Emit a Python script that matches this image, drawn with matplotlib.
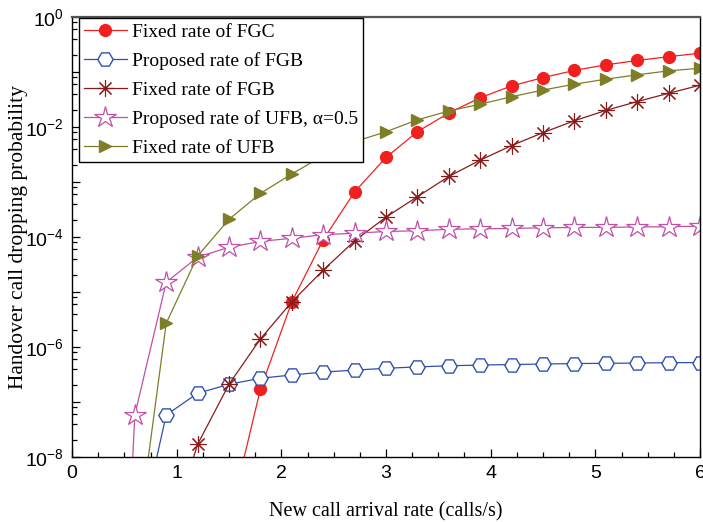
import matplotlib
matplotlib.use("Agg")
import matplotlib.pyplot as plt
from matplotlib.ticker import LogLocator, FixedLocator, FuncFormatter, MultipleLocator

# ---------------- data ----------------
x_all = [0.3, 0.6, 0.9, 1.2, 1.5, 1.8, 2.1, 2.4, 2.7, 3.0, 3.3, 3.6, 3.9,
         4.2, 4.5, 4.8, 5.1, 5.4, 5.7, 6.0]

x_fgc = [1.5, 1.8, 2.1, 2.4, 2.7, 3.0, 3.3, 3.6, 3.9, 4.2, 4.5, 4.8, 5.1, 5.4, 5.7, 6.0]
y_fgc = [7e-10, 1.7e-7, 6.6e-6, 8.9e-5, 6.6e-4, 2.8e-3, 8.2e-3, 1.8e-2, 3.4e-2,
         5.6e-2, 7.9e-2, 0.107, 0.135, 0.162, 0.19, 0.22]

x_pfgb = [0.6, 0.9, 1.2, 1.5, 1.8, 2.1, 2.4, 2.7, 3.0, 3.3, 3.6, 3.9, 4.2, 4.5,
          4.8, 5.1, 5.4, 5.7, 6.0]
y_pfgb = [1.6e-10, 5.8e-8, 1.44e-7, 2.1e-7, 2.7e-7, 3.1e-7, 3.5e-7, 3.8e-7, 4.1e-7,
          4.35e-7, 4.55e-7, 4.7e-7, 4.8e-7, 4.9e-7, 5.0e-7, 5.05e-7, 5.1e-7, 5.2e-7, 5.2e-7]

x_ffgb = [0.9, 1.2, 1.5, 1.8, 2.1, 2.4, 2.7, 3.0, 3.3, 3.6, 3.9, 4.2, 4.5, 4.8,
          5.1, 5.4, 5.7, 6.0]
y_ffgb = [2.5e-10, 1.7e-8, 2.1e-7, 1.4e-6, 6.6e-6, 2.5e-5, 8.5e-5, 2.3e-4, 5.4e-4,
          1.26e-3, 2.5e-3, 4.6e-3, 7.9e-3, 1.3e-2, 2.0e-2, 2.9e-2, 4.1e-2, 5.75e-2]

x_pufb = x_all
y_pufb = [1e-19, 5.8e-8, 1.5e-5, 4.3e-5, 6.5e-5, 8.3e-5, 9.5e-5, 1.1e-4, 1.17e-4,
          1.26e-4, 1.3e-4, 1.38e-4, 1.41e-4, 1.43e-4, 1.47e-4, 1.49e-4, 1.5e-4,
          1.52e-4, 1.54e-4, 1.57e-4]

x_fufb = [0.6, 0.9, 1.2, 1.5, 1.8, 2.1, 2.4, 2.7, 3.0, 3.3, 3.6, 3.9, 4.2, 4.5,
          4.8, 5.1, 5.4, 5.7, 6.0]
y_fufb = [1.4e-10, 2.7e-6, 4.5e-5, 2.1e-4, 6.2e-4, 1.4e-3, 3.0e-3, 5.4e-3, 8.2e-3,
          1.35e-2, 1.95e-2, 2.6e-2, 3.55e-2, 4.7e-2, 6.0e-2, 7.4e-2, 8.9e-2, 0.105, 0.117]

labels = ["Fixed rate of FGC", "Proposed rate of FGB", "Fixed rate of FGB",
          "Proposed rate of UFB, \u03b1=0.5", "Fixed rate of UFB"]

xticks = [0, 1, 2, 3, 4, 5, 6]

# ---------------- style ----------------
SERIF = ["Liberation Serif", "DejaVu Serif"]
SANS = ["Liberation Sans", "DejaVu Sans"]
plt.rcParams["font.family"] = SANS
plt.rcParams["mathtext.default"] = "regular"

fig = plt.figure(figsize=(7.03, 5.22), dpi=100)
ax = fig.add_axes([72 / 703, 1 - 457 / 522, 628 / 703, 440 / 522])

c_fgc = "#F02020"
c_pfgb = "#3050B0"
c_ffgb = "#8A1A1A"
c_pufb = "#C050A8"
c_fufb = "#7E7E28"

lw = 0.9
ax.plot(x_fgc, y_fgc, color=c_fgc, lw=lw, marker="o", ms=8.5,
        mfc=c_fgc, mec=c_fgc, label=labels[0])
ax.plot(x_pfgb, y_pfgb, color=c_pfgb, lw=lw, marker="H", ms=11,
        mfc="white", mec=c_pfgb, mew=1.0, label=labels[1])
ax.plot(x_ffgb, y_ffgb, color=c_ffgb, lw=lw, marker=(8, 2, 0), ms=12,
        mec=c_ffgb, mew=0.8, label=labels[2])
ax.plot(x_pufb, y_pufb, color=c_pufb, lw=lw, marker="*", ms=16,
        mfc="white", mec=c_pufb, mew=0.9, label=labels[3])
ax.plot(x_fufb, y_fufb, color=c_fufb, lw=lw, marker=">", ms=9,
        mfc=c_fufb, mec=c_fufb, label=labels[4])

ax.set_yscale("log")
ax.set_xlim(0, 6)
ax.set_ylim(1e-8, 1)

ax.xaxis.set_major_locator(FixedLocator(xticks))
ax.xaxis.set_minor_locator(MultipleLocator(0.25))
ax.yaxis.set_major_locator(LogLocator(base=10, numticks=20))
ax.yaxis.set_minor_locator(LogLocator(base=10, subs=(2, 4, 6, 8), numticks=20))


def yfmt(v, pos):
    import math
    e = int(round(math.log10(v)))
    if e % 2 == 0:
        return r"$10^{%d}$" % e
    return ""


ax.yaxis.set_major_formatter(FuncFormatter(yfmt))
ax.yaxis.set_minor_formatter(FuncFormatter(lambda v, p: ""))
ax.xaxis.set_major_formatter(FuncFormatter(lambda v, p: "%d" % v))

ax.tick_params(which="both", direction="in", top=False, right=False,
               labelsize=14, width=0.9)
ax.tick_params(which="major", length=6, pad=6)
ax.tick_params(which="minor", length=3.5)
for sp in ax.spines.values():
    sp.set_linewidth(1.0)
    sp.set_color("black")
ax.spines["top"].set_color("#555555")
ax.spines["top"].set_linewidth(1.6)

ax.set_xlabel("New call arrival rate (calls/s)", family=SERIF, fontsize=14.5)
ax.set_ylabel("Handover call dropping probability", family=SERIF, fontsize=15.5)
ax.xaxis.set_label_coords(0.5, -0.103)
ax.yaxis.set_label_coords(-0.07, 0.5)

leg = ax.legend(loc="upper left", bbox_to_anchor=(7 / 628, 1 - 1.5 / 440),
                borderaxespad=0, prop={"family": SERIF, "size": 14},
                frameon=True, fancybox=False, shadow=False,
                handlelength=2.2, handletextpad=0.3, labelspacing=0.58,
                borderpad=0.25)
leg.get_frame().set_edgecolor("black")
leg.get_frame().set_linewidth(1.0)
leg.get_frame().set_alpha(1.0)

fig.savefig("out.png", dpi=100)
